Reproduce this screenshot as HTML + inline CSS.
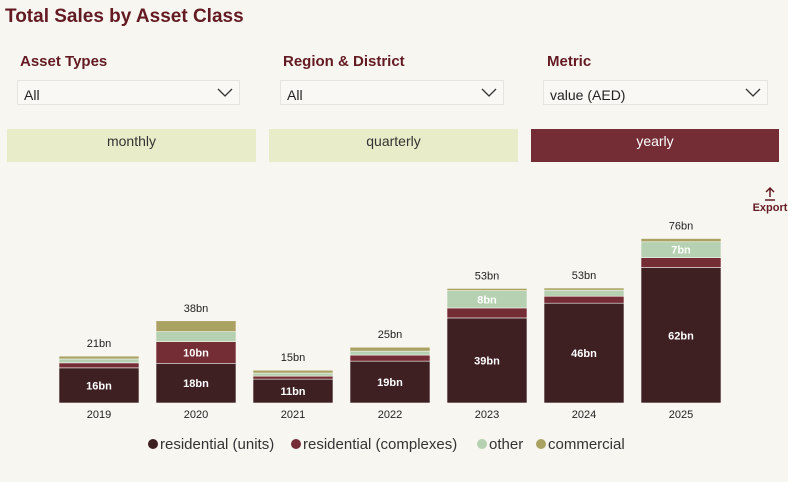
<!DOCTYPE html>
<html><head><meta charset="utf-8"><style>
body{margin:0;width:788px;height:482px;background:#f7f6f1;font-family:"Liberation Sans",sans-serif;position:relative;overflow:hidden}
.abs{position:absolute}
.title{left:5px;top:6px;font-size:19px;font-weight:bold;color:#641a22}
.lbl{font-size:15px;font-weight:bold;color:#641a22;top:53px}
.dd{top:80px;height:25px;border:1px solid #e6e4df;background:#f9f8f4;font-size:14px;color:#222;box-sizing:border-box;padding:6px 0 0 6px}
.dd svg{position:absolute;right:6px;top:7px}
.btn{top:129px;height:33px;background:#e9ecc9;font-size:14px;color:#333;text-align:center;padding-top:4px;box-sizing:border-box}
</style></head><body>
<div class="abs title">Total Sales by Asset Class</div>
<div class="abs lbl" style="left:20px">Asset Types</div>
<div class="abs lbl" style="left:283px">Region &amp; District</div>
<div class="abs lbl" style="left:547px">Metric</div>
<div class="abs dd" style="left:17px;width:223px">All<svg width="16" height="10"><path d="M1 1L8 8L15 1" fill="none" stroke="#333" stroke-width="1.3"/></svg></div>
<div class="abs dd" style="left:280px;width:224px">All<svg width="16" height="10"><path d="M1 1L8 8L15 1" fill="none" stroke="#333" stroke-width="1.3"/></svg></div>
<div class="abs dd" style="left:543px;width:225px">value (AED)<svg width="16" height="10"><path d="M1 1L8 8L15 1" fill="none" stroke="#333" stroke-width="1.3"/></svg></div>
<div class="abs btn" style="left:7px;width:249px">monthly</div>
<div class="abs btn" style="left:269px;width:249px">quarterly</div>
<div class="abs btn" style="left:531px;width:248px;background:#742d35;color:#fff">yearly</div>
<div class="abs" style="left:750px;top:186px;width:40px;text-align:center;color:#641a22;font-size:11px;font-weight:bold"><svg width="14" height="16" style="display:block;margin:0 auto"><path d="M7 2V11M3 6L7 2L11 6M2 14H12" fill="none" stroke="#641a22" stroke-width="1.5"/></svg>Export</div>
<svg id="chart" class="abs" style="left:0;top:0" width="788" height="482"></svg>
<script>
const years=["2019","2020","2021","2022","2023","2024","2025"];
const units=[16.2,18.3,11,19.3,39.2,46,62.4];
const complexes=[2.3,10,1.4,2.8,4.6,3.2,4.6];
const other=[1.8,4.6,1.4,1.8,8,2.8,7.3];
const commercial=[1.3,5,1.3,1.8,1,1,1.5];
const totals=["21bn","38bn","15bn","25bn","53bn","53bn","76bn"];
const seriesNames=["residential (units)","residential (complexes)","other","commercial"];
const colors=["#3e1f22","#742d35","#b6d1b1","#aaa263"];
const series=[units,complexes,other,commercial];
const svg=document.getElementById('chart');const NS="http://www.w3.org/2000/svg";
const base=403,scale=2.17,x0=59,step=97,bw=80;
const y=v=>base-v*scale;const x=i=>x0+i*step;
function mk(t,a){const e=document.createElementNS(NS,t);for(const k in a)e.setAttribute(k,a[k]);svg.appendChild(e);return e;}
years.forEach((yr,i)=>{let acc=0;
 series.forEach((s,j)=>{const v=s[i];
  const r=mk('rect',{x:x(i),y:y(acc+v),width:bw,height:v*scale,fill:colors[j],stroke:'#f7f6f1','stroke-width':0.6});
  
  
  if(v>=6){const t=mk('text',{x:x(i)+bw/2,y:y(acc+v/2)+4,'text-anchor':'middle','font-size':11,'font-weight':'bold',fill:'#fff'});t.textContent=Math.round(v)+'bn';
   
   }
  acc+=v;});
 const t=mk('text',{x:x(i)+bw/2,y:y(acc)-9,'text-anchor':'middle','font-size':11,fill:'#222'});t.textContent=totals[i];
 
 
 const l=mk('text',{x:x(i)+bw/2,y:418,'text-anchor':'middle','font-size':11,fill:'#222'});l.textContent=yr;
 
 
});
const lx=[148,291,477,536];
seriesNames.forEach((n,j)=>{
 const c=mk('circle',{cx:lx[j]+5,cy:444,r:5,fill:colors[j]});
 
 
 const t=mk('text',{x:lx[j]+12,y:449,'font-size':15,fill:'#333'});t.textContent=n;
 
 
});
</script>
</body></html>
